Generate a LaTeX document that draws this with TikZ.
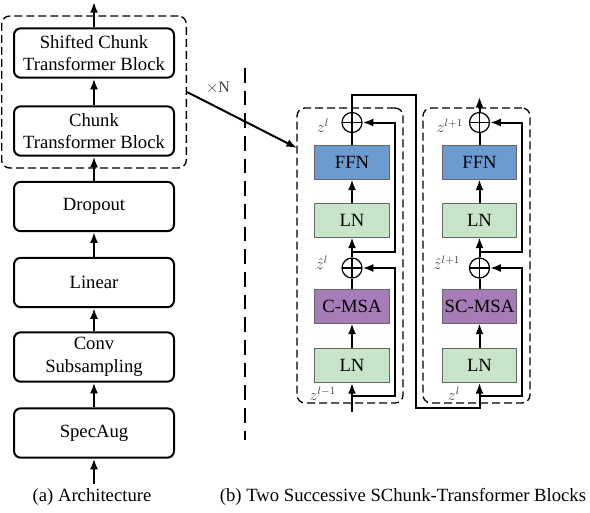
\documentclass[tikz,border=0pt]{standalone}
\usepackage{fontspec}
\setmainfont{Liberation Serif}
\usetikzlibrary{arrows.meta,fit}

\definecolor{lngreen}{RGB}{200,228,201}
\definecolor{ffnblue}{RGB}{108,155,210}
\definecolor{msapurple}{RGB}{166,124,182}

\begin{document}
\begin{tikzpicture}[x=0.75pt,y=-0.75pt,>={Latex[length=8pt,width=6pt]},
  font=\fontsize{14}{17}\selectfont,
  archbox/.style={draw,line width=1.5pt,rounded corners=5pt,minimum width=120pt,minimum height=37pt,align=center,inner sep=0pt},
  layer/.style={draw=black!60,line width=0.7pt,minimum width=56pt,minimum height=25.5pt,inner sep=0pt},
  addop/.style={circle,draw,line width=0.9pt,minimum size=15pt,inner sep=0pt,
    path picture={\draw[line width=0.9pt] (path picture bounding box.north) -- (path picture bounding box.south)
      (path picture bounding box.west) -- (path picture bounding box.east);}},
  group/.style={draw,line width=1pt,dash pattern=on 6pt off 3pt,rounded corners=6pt,inner sep=0pt},
  flow/.style={line width=1.5pt},
  tag/.style={font=\fontsize{12}{14}\selectfont,text=black!75,inner sep=0pt}
]
  \useasboundingbox (0,0) rectangle (590,512);

  % (a) architecture
  \node[archbox] (spec) at (94,433) {SpecAug};
  \node[archbox] (conv) at (94,357) {Conv\\Subsampling};
  \node[archbox] (lin) at (94,282.5) {Linear};
  \node[archbox] (drop) at (94,206.5) {Dropout};
  \node[archbox] (cb) at (94,131) {Chunk\\Transformer Block};
  \node[archbox] (scb) at (94,53) {Shifted Chunk\\Transformer Block};
  \node[group,fit=(scb)(cb),inner sep=8.5pt] (grp) {};
  \coordinate (ain) at (94,484);
  \coordinate (aout) at (94,2);

  \draw[flow,->] (ain) -- (spec);
  \draw[flow,->] (spec) -- (conv);
  \draw[flow,->] (conv) -- (lin);
  \draw[flow,->] (lin) -- (drop);
  \draw[flow,->] (drop) -- (cb);
  \draw[flow,->] (cb) -- (scb);
  \draw[flow,->] (scb) -- (aout);

  \draw[line width=1.6pt,dash pattern=on 11pt off 6pt] (245,68) -- (245,440);
  \node[tag] (times) at (218,88) {$\times$N};

  % (b) block l
  \node[group,fit={(297,108) (403,403)}] (blk1) {};
  \node[layer,fill=lngreen] (ln1a) at (352,365.5) {LN};
  \node[layer,fill=msapurple] (msa1) at (352,306) {C-MSA};
  \node[addop] (add1a) at (352,268) {};
  \node[layer,fill=lngreen] (ln1b) at (352,220) {LN};
  \node[layer,fill=ffnblue] (ffn1) at (352,162) {FFN};
  \node[addop] (add1b) at (352,122.5) {};

  % (b) block l+1
  \node[group,fit={(423,108) (530,403)}] (blk2) {};
  \node[layer,fill=lngreen] (ln2a) at (479.5,365.5) {LN};
  \node[layer,fill=msapurple] (msa2) at (479.5,306) {SC-MSA};
  \node[addop] (add2a) at (479.5,268) {};
  \node[layer,fill=lngreen] (ln2b) at (479.5,220) {LN};
  \node[layer,fill=ffnblue] (ffn2) at (479.5,162) {FFN};
  \node[addop] (add2b) at (479.5,122.5) {};

  \node[tag] (zin1) at (323,394) {$z^{l-1}$};
  \node[tag] (zhat1) at (322,263) {$\hat{z}^{l}$};
  \node[tag] (zout1) at (323,126) {$z^{l}$};
  \node[tag] (zin2) at (454,394) {$z^{l}$};
  \node[tag] (zhat2) at (447,263) {$\hat{z}^{l+1}$};
  \node[tag] (zout2) at (450,126) {$z^{l+1}$};

  \coordinate (hit) at (297,148);
  \draw[flow,->] (grp.east) -- (hit);

  % block l wiring
  \coordinate (in1) at (352,412);
  \coordinate (br1a) at (352,396);
  \coordinate (r1a) at (395,396);
  \coordinate (br1b) at (352,252);
  \coordinate (r1b) at (395,252);
  \draw[flow,->] (in1) -- (ln1a);
  \draw[flow,->] (ln1a) -- (msa1);
  \draw[flow] (msa1) -- (add1a);
  \draw[flow,->] (add1a) -- (ln1b);
  \draw[flow,->] (ln1b) -- (ffn1);
  \draw[flow] (ffn1) -- (add1b);
  \draw[flow,->] (br1a) -- (r1a) |- (add1a);
  \draw[flow,->] (br1b) -- (r1b) |- (add1b);

  % link between the blocks
  \coordinate (up1) at (352,95);
  \coordinate (up1r) at (416,95);
  \coordinate (dn1r) at (416,408);
  \coordinate (in2) at (479.5,408);
  \draw[flow,->] (add1b) -- (up1) -- (up1r) -- (dn1r) -- (in2) -- (ln2a);

  % block l+1 wiring
  \coordinate (br2a) at (479.5,396);
  \coordinate (r2a) at (522,396);
  \coordinate (br2b) at (479.5,252);
  \coordinate (r2b) at (522,252);
  \coordinate (out2) at (479.5,97);
  \draw[flow,->] (ln2a) -- (msa2);
  \draw[flow] (msa2) -- (add2a);
  \draw[flow,->] (add2a) -- (ln2b);
  \draw[flow,->] (ln2b) -- (ffn2);
  \draw[flow] (ffn2) -- (add2b);
  \draw[flow,->] (br2a) -- (r2a) |- (add2a);
  \draw[flow,->] (br2b) -- (r2b) |- (add2b);
  \draw[flow,->] (add2b) -- (out2);

  % captions
  \node (capa) at (92,497) {(a) Architecture};
  \node (capb) at (403,497) {(b) Two Successive SChunk-Transformer Blocks};
\end{tikzpicture}
\end{document}
